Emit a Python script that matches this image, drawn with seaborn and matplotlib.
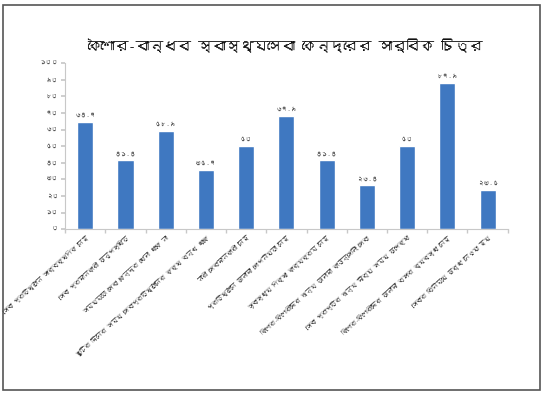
import matplotlib
matplotlib.use("Agg")
import matplotlib.pyplot as plt
from matplotlib import font_manager
from matplotlib.patches import Rectangle
import seaborn as sns
import pandas as pd

# Chart data
title = "কৈশোর-বান্ধব স্বাস্থ্যসেবা কেন্দ্রের সার্বিক চিত্র"
categories = [
    "সেবা প্রতিষ্ঠান সার্বক্ষণিক নেই",
    "সেবা প্রদানকারী অনুপস্থিত",
    "সময়মতো সেবা কেন্দ্র খোলা থাকে না",
    "ছুটির দিনের সময় সেবাপ্রতিষ্ঠানের কক্ষ বন্ধ থাকে",
    "নারী সেবাদানকারী নেই",
    "প্রতিষ্ঠানে আলাদা গোপনীয়তা নেই",
    "স্বাস্থ্য শিক্ষা কার্যক্রম নেই",
    "কিশোর-কিশোরীদের জন্য আলাদা কাউন্সেলিং সেবা",
    "সেবা প্রাপ্তির জন্য দীর্ঘ সময় অপেক্ষা",
    "কিশোর-কিশোরীদের আলাদা বসার ব্যবস্থা নেই",
    "সেবার বিনিময়ে অর্থ নেওয়া হয়",
]
values = [64.7, 41.4, 58.9, 35.7, 50, 67.9, 41.4, 26.4, 50, 87.9, 23.5]
y_ticks = list(range(0, 101, 10))

BN_DIGITS = str.maketrans("0123456789", "০১২৩৪৫৬৭৮৯")


def bn(num):
    text = f"{num:g}"
    return text.translate(BN_DIGITS)


def bengali_family():
    """Return the name of an installed font that covers Bengali, if any."""
    try:
        from fontTools.ttLib import TTFont
    except Exception:
        return None
    for path in sorted(font_manager.findSystemFonts()):
        try:
            font = TTFont(path, fontNumber=0, lazy=True)
            cmap = font.getBestCmap() or {}
            if 0x0995 in cmap and 0x09CB in cmap and 0x09E6 in cmap:
                font_manager.fontManager.addfont(path)
                return font_manager.FontProperties(fname=path).get_name()
        except Exception:
            continue
    return None


sns.set_theme(style="white")
bn_font = bengali_family()
families = ([bn_font] if bn_font else []) + ["Noto Sans", "DejaVu Sans"]
plt.rcParams["font.family"] = families

df = pd.DataFrame({"category": categories, "value": values})

fig = plt.figure(figsize=(5.43, 3.95), dpi=100)
ax = fig.add_axes([0.12, 0.42, 0.815, 0.42])

sns.barplot(data=df, x="category", y="value", color="#3F78C1",
            width=0.4, saturation=1, ax=ax)

ax.bar_label(ax.containers[0], labels=[bn(v) for v in values],
             padding=3, fontsize=4.5, color="#555555")

ax.set_ylim(0, 100)
ax.set_xlim(-0.5, len(categories) - 0.5)
ax.set_yticks(y_ticks)
ax.set_yticklabels([bn(t) for t in y_ticks], fontsize=4.5, color="#555555")
ax.set_xticks(range(len(categories)))
ax.set_xticklabels(categories, rotation=42, ha="right",
                   rotation_mode="anchor", fontsize=4.4, color="#333333")
ax.set_xlabel("")
ax.set_ylabel("")

for side in ("top", "right"):
    ax.spines[side].set_visible(False)
for side in ("left", "bottom"):
    ax.spines[side].set_color("#C8C8C8")
    ax.spines[side].set_linewidth(0.8)
ax.tick_params(axis="y", length=3, color="#C8C8C8", pad=2, left=True)
ax.tick_params(axis="x", length=0, pad=4)

# category boundary ticks along the baseline
ax.set_xticks([i + 0.5 for i in range(-1, len(categories))], minor=True)
ax.tick_params(axis="x", which="minor", length=3, color="#C8C8C8", bottom=True)

fig.text(0.525, 0.885, title, ha="center", va="center",
         fontsize=10, color="#111111")

# outer frame
fig.patches.append(Rectangle((0.006, 0.012), 0.988, 0.976,
                             transform=fig.transFigure, fill=False,
                             edgecolor="#555555", linewidth=1.2))

fig.savefig("out.png", dpi=100)
